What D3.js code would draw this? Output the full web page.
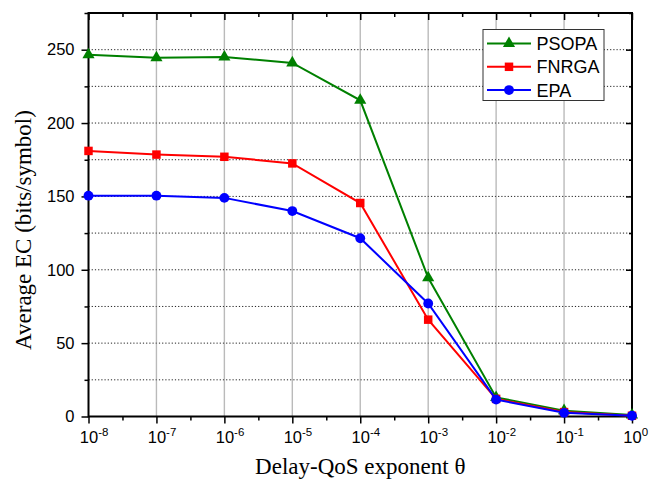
<!DOCTYPE html>
<html>
<head>
<meta charset="utf-8">
<script src="https://cdn.jsdelivr.net/npm/d3@7"></script>
<style>
  html, body { margin: 0; padding: 0; background: #fff; }
  svg { display: block; }
</style>
</head>
<body>
<svg id="chart" width="654" height="480"></svg>
<script>
// Delay-QoS exponent values (log axis) and effective capacity per scheme
const theta = [1e-8, 1e-7, 1e-6, 1e-5, 1e-4, 1e-3, 1e-2, 1e-1, 1];
const psopa = [246.5, 244.5, 245, 241, 215.5, 94.5, 13, 4, 1];
const fnrga = [181, 178.5, 177, 172.5, 145.5, 66, 12, 3, 0.5];
const epa   = [150.5, 150.5, 149, 140, 121.5, 77, 11.5, 2.5, 0.5];

const yTicks = [0, 50, 100, 150, 200, 250];
const yMinorTicks = [25, 75, 125, 175, 225, 275];
const xExponents = [-8, -7, -6, -5, -4, -3, -2, -1, 0];
const xMinorExponents = [-7.5, -6.5, -5.5, -4.5, -3.5, -2.5, -1.5, -0.5];

const seriesNames = ["PSOPA", "FNRGA", "EPA"];
const seriesColors = ["#008000", "#ff0000", "#0000ff"];
const seriesShapes = [d3.symbolTriangle, d3.symbolSquare, d3.symbolCircle];
const seriesSizes = [64, 72, 76];
const seriesData = [psopa, fnrga, epa];

const svg = d3.select("#chart");
const W = 654, H = 480;
const m = { left: 88.5, right: 22, top: 13, bottom: 63.5 };
const x0 = m.left, x1 = W - m.right, y0 = H - m.bottom, y1 = m.top;

const x = d3.scaleLog().domain([1e-8, 1]).range([x0, x1]);
const y = d3.scaleLinear().domain([0, 275]).range([y0, y1]);

const tickFont = "'Liberation Sans', Arial, sans-serif";
const titleFont = "'Liberation Serif', 'Times New Roman', serif";

// grid: horizontal dotted lines every 25, vertical dotted lines at each decade
const grid = svg.append("g");
grid.selectAll("line.h")
  .data(d3.range(25, 275, 25))
  .join("line")
  .attr("x1", x0).attr("x2", x1)
  .attr("y1", d => y(d)).attr("y2", d => y(d))
  .attr("stroke", "#222").attr("stroke-width", 1)
  .attr("stroke-dasharray", "1.2,2");
grid.selectAll("line.v")
  .data(theta.slice(1, -1))
  .join("line")
  .attr("x1", d => x(d)).attr("x2", d => x(d))
  .attr("y1", y0).attr("y2", y1)
  .attr("stroke", "#777").attr("stroke-width", 1.4)
  .attr("stroke-dasharray", "1,1");

// axes
const pow10 = e => Math.pow(10, e);
function styleAxis(g) {
  g.select(".domain").remove();
  g.selectAll(".tick line").attr("stroke", "#000").attr("stroke-width", 1.5);
}

// bottom: major + minor ticks, labels as 10^n
const bottom = svg.append("g").attr("transform", `translate(0,${y0})`)
  .call(d3.axisBottom(x).tickValues(xExponents.map(pow10)).tickSize(7).tickSizeOuter(0).tickPadding(8).tickFormat(""))
  .call(styleAxis);
bottom.selectAll(".tick text").each(function(d, i) {
  const t = d3.select(this)
    .attr("font-family", tickFont).attr("font-size", 16.5).attr("fill", "#000")
    .attr("text-anchor", "start").attr("dy", "0.71em");
  const base = t.append("tspan").text("10");
  base.attr("x", -base.node().getComputedTextLength() / 2);
  t.append("tspan").attr("dy", -7).attr("font-size", 11.5).text(xExponents[i]);
});
svg.append("g").attr("transform", `translate(0,${y0})`)
  .call(d3.axisBottom(x).tickValues(xMinorExponents.map(pow10)).tickSize(4).tickSizeOuter(0).tickFormat(""))
  .call(styleAxis);

// top: inward ticks
svg.append("g").attr("transform", `translate(0,${y1})`)
  .call(d3.axisTop(x).tickValues(xExponents.map(pow10)).tickSize(-7).tickSizeOuter(0).tickFormat(""))
  .call(styleAxis);
svg.append("g").attr("transform", `translate(0,${y1})`)
  .call(d3.axisTop(x).tickValues(xMinorExponents.map(pow10)).tickSize(-4).tickSizeOuter(0).tickFormat(""))
  .call(styleAxis);

// left: outward ticks with labels
svg.append("g").attr("transform", `translate(${x0},0)`)
  .call(d3.axisLeft(y).tickValues(yTicks).tickSize(7).tickSizeOuter(0).tickPadding(7))
  .call(styleAxis)
  .call(g => g.selectAll(".tick text")
    .attr("font-family", tickFont).attr("font-size", 16.5).attr("fill", "#000"));
svg.append("g").attr("transform", `translate(${x0},0)`)
  .call(d3.axisLeft(y).tickValues(yMinorTicks).tickSize(4).tickSizeOuter(0).tickFormat(""))
  .call(styleAxis);

// right: inward ticks
svg.append("g").attr("transform", `translate(${x1},0)`)
  .call(d3.axisRight(y).tickValues(yTicks).tickSize(-6).tickSizeOuter(0).tickFormat(""))
  .call(styleAxis);
svg.append("g").attr("transform", `translate(${x1},0)`)
  .call(d3.axisRight(y).tickValues(yMinorTicks).tickSize(-3).tickSizeOuter(0).tickFormat(""))
  .call(styleAxis);

// frame
svg.append("rect")
  .attr("x", x0).attr("y", y1).attr("width", x1 - x0).attr("height", y0 - y1)
  .attr("fill", "none").attr("stroke", "#000").attr("stroke-width", 2);

// series lines and markers
const line = d3.line().x((d, i) => x(theta[i])).y(d => y(d));
seriesData.forEach((vals, k) => {
  const g = svg.append("g");
  g.append("path").datum(vals)
    .attr("d", line)
    .attr("fill", "none").attr("stroke", seriesColors[k]).attr("stroke-width", 2);
  g.selectAll("path.mk").data(vals).join("path")
    .attr("class", "mk")
    .attr("transform", (d, i) => `translate(${x(theta[i])},${y(d)})`)
    .attr("d", d3.symbol().type(seriesShapes[k]).size(seriesSizes[k]))
    .attr("fill", seriesColors[k]);
});

// legend
const lg = svg.append("g");
lg.append("rect")
  .attr("x", 483).attr("y", 29.5).attr("width", 121).attr("height", 71)
  .attr("fill", "#fff").attr("stroke", "#333").attr("stroke-width", 1);
seriesNames.forEach((name, k) => {
  const cy = 43.5 + k * 23.3;
  lg.append("line").attr("x1", 487).attr("x2", 531).attr("y1", cy).attr("y2", cy)
    .attr("stroke", seriesColors[k]).attr("stroke-width", 2);
  lg.append("path").attr("transform", `translate(509,${cy})`)
    .attr("d", d3.symbol().type(seriesShapes[k]).size(seriesSizes[k]))
    .attr("fill", seriesColors[k]);
  lg.append("text").attr("x", 536.5).attr("y", cy).attr("dy", "0.36em")
    .attr("font-family", tickFont).attr("font-size", 18).attr("fill", "#000")
    .text(name);
});

// axis titles
svg.append("text")
  .attr("x", (x0 + x1) / 2).attr("y", 474)
  .attr("text-anchor", "middle")
  .attr("font-family", titleFont).attr("font-size", 23).attr("fill", "#000")
  .text("Delay-QoS exponent θ");
svg.append("text")
  .attr("transform", "translate(31,230) rotate(-90)")
  .attr("text-anchor", "middle")
  .attr("font-family", titleFont).attr("font-size", 23).attr("fill", "#000")
  .text("Average EC (bits/symbol)");
</script>
</body>
</html>
